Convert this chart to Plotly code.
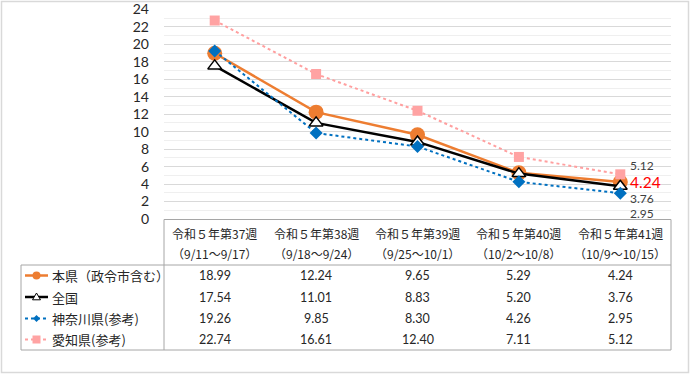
import plotly.graph_objects as go

weeks = ["令和５年第37週", "令和５年第38週", "令和５年第39週", "令和５年第40週", "令和５年第41週"]
periods = ["（9/11～9/17）", "（9/18～9/24）", "（9/25～10/1）", "（10/2～10/8）", "（10/9～10/15）"]
series_names = ["本県（政令市含む）", "全国", "神奈川県(参考)", "愛知県(参考)"]
honken = [18.99, 12.24, 9.65, 5.29, 4.24]
zenkoku = [17.54, 11.01, 8.83, 5.20, 3.76]
kanagawa = [19.26, 9.85, 8.30, 4.26, 2.95]
aichi = [22.74, 16.61, 12.40, 7.11, 5.12]
y_ticks = list(range(0, 25, 2))

W, H = 690, 375
L, R, T, B = 164, 19, 9, 156
PW, PH = W - L - R, H - T - B

def px(x):
    return (x - L) / PW

def py(y):
    return (H - B - y) / PH

NUM_FONT = "Lato, 'Noto Sans CJK JP', sans-serif"
JP_FONT = "'Noto Sans CJK JP', Lato, sans-serif"
TXT = "#262626"

styles = [
    dict(color="#ED7D31", width=2.5, dash="solid", symbol="circle", size=15, mcolor="#ED7D31", lcolor="#ED7D31", lsize=8),
    dict(color="#000000", width=2.5, dash="solid", symbol="triangle-up", size=12, mcolor="#FFFFFF", lcolor="#000000", lsize=8),
    dict(color="#0070C0", width=2, dash="dot", symbol="diamond", size=10, mcolor="#0070C0", lcolor="#0070C0", lsize=7),
    dict(color="#FF9F9F", width=2, dash="dot", symbol="square", size=10, mcolor="#FFA3A3", lcolor="#FFA3A3", lsize=8),
]
data = [honken, zenkoku, kanagawa, aichi]
xs = list(range(len(weeks)))

fig = go.Figure()
for name, vals, st in zip(series_names, data, styles):
    fig.add_trace(go.Scatter(
        x=xs, y=vals, name=name, mode="lines+markers",
        line=dict(color=st["color"], width=st["width"], dash=st["dash"]),
        marker=dict(symbol=st["symbol"], size=st["size"], color=st["mcolor"],
                    line=dict(color=st["lcolor"], width=1.5 if st["symbol"] == "triangle-up" else 0)),
        showlegend=False, hoverinfo="skip"))

shapes = []
annotations = []
line_col = "#A6A6A6"

def hline(x0, x1, y, col=line_col):
    shapes.append(dict(type="line", xref="paper", yref="paper", x0=px(x0), x1=px(x1), y0=py(y), y1=py(y),
                       line=dict(color=col, width=1)))

def vline(x, y0, y1, col=line_col):
    shapes.append(dict(type="line", xref="paper", yref="paper", x0=px(x), x1=px(x), y0=py(y0), y1=py(y1),
                       line=dict(color=col, width=1)))

# outer chart border
shapes.append(dict(type="rect", xref="paper", yref="paper", x0=px(1.5), x1=px(688.5), y0=py(1.5), y1=py(372.5),
                   line=dict(color="#D9D9D9", width=1.5)))

# table frame
hline(164, 671, 219.5)
vline(164, 219.5, 350)
vline(671, 219.5, 350)
hline(21, 671, 265)
hline(21, 671, 350)
vline(21, 265, 350)

# header text
for i, (w, p) in enumerate(zip(weeks, periods)):
    annotations.append(dict(x=i, y=py(233), xref="x", yref="paper", text=w, showarrow=False,
                            font=dict(family=JP_FONT, size=12, color=TXT), xanchor="center", yanchor="middle"))
    annotations.append(dict(x=i, y=py(253), xref="x", yref="paper", text=p, showarrow=False,
                            font=dict(family=JP_FONT, size=12, color=TXT), xanchor="center", yanchor="middle"))

row_y = [275.5, 297, 318.5, 339.5]
for r, (name, vals, st) in enumerate(zip(series_names, data, styles)):
    yy = row_y[r]
    for i, v in enumerate(vals):
        annotations.append(dict(x=i, y=py(yy), xref="x", yref="paper", text=f"{v:.2f}", showarrow=False,
                                font=dict(family=NUM_FONT, size=12.5, color=TXT), xanchor="center", yanchor="middle"))
    # legend sample line
    shapes.append(dict(type="line", xref="paper", yref="paper", x0=px(25), x1=px(48), y0=py(yy), y1=py(yy),
                       line=dict(color=st["color"], width=st["width"], dash=st["dash"])))
    cx, cy = 36.5, yy
    s = st["lsize"] / 2
    if st["symbol"] == "circle":
        shapes.append(dict(type="circle", xref="paper", yref="paper", x0=px(cx - s), x1=px(cx + s),
                           y0=py(cy - s), y1=py(cy + s), fillcolor=st["mcolor"], line=dict(width=0)))
    elif st["symbol"] == "square":
        shapes.append(dict(type="rect", xref="paper", yref="paper", x0=px(cx - s), x1=px(cx + s),
                           y0=py(cy - s), y1=py(cy + s), fillcolor=st["mcolor"], line=dict(width=0)))
    elif st["symbol"] == "diamond":
        pts = [(cx, cy - s), (cx + s, cy), (cx, cy + s), (cx - s, cy)]
        path = "M " + " L ".join(f"{px(a)},{py(b)}" for a, b in pts) + " Z"
        shapes.append(dict(type="path", xref="paper", yref="paper", path=path, fillcolor=st["mcolor"], line=dict(width=0)))
    else:
        pts = [(cx, cy - s), (cx + s, cy + s * 0.7), (cx - s, cy + s * 0.7)]
        path = "M " + " L ".join(f"{px(a)},{py(b)}" for a, b in pts) + " Z"
        shapes.append(dict(type="path", xref="paper", yref="paper", path=path, fillcolor="#FFFFFF",
                           line=dict(color="#000000", width=1)))
    annotations.append(dict(x=px(50), y=py(yy), xref="paper", yref="paper", text=name, showarrow=False,
                            font=dict(family=JP_FONT, size=13, color=TXT), xanchor="left", yanchor="middle"))

# data labels at last point
last = len(weeks) - 1
label_specs = [(honken, 0, "#FF0000", 15.5), (zenkoku, -12, "#404040", 12), (kanagawa, -20, "#404040", 12), (aichi, 9, "#404040", 12)]
for vals, ysh, col, fs in label_specs:
    annotations.append(dict(x=last, y=vals[last], xref="x", yref="y", text=f"{vals[last]:.2f}", showarrow=False,
                            xanchor="left", yanchor="middle", xshift=9, yshift=ysh, borderpad=0,
                            font=dict(family=NUM_FONT, size=fs, color=col)))

fig.update_layout(
    width=W, height=H, autosize=False, margin=dict(l=L, r=R, t=T, b=B),
    paper_bgcolor="white", plot_bgcolor="white",
    shapes=shapes, annotations=annotations,
    xaxis=dict(range=[-0.5, len(weeks) - 0.5], showticklabels=False, showgrid=False, zeroline=False,
               showline=False, ticks="", fixedrange=True),
    yaxis=dict(range=[0, 24.06], tickvals=y_ticks, showgrid=True, gridcolor="#D9D9D9", gridwidth=1,
               zeroline=False, showline=False, ticks="", ticklabelstandoff=14, automargin=False,
               tickfont=dict(family=NUM_FONT, size=14, color=TXT),
               minor=dict(dtick=1, showgrid=True, gridcolor="#EFEFEF", gridwidth=1), fixedrange=True),
)

fig.write_html("out.html", config={"responsive": False, "displayModeBar": False},
               post_script="var gd=document.getElementById('{plot_id}');gd.style.position='fixed';gd.style.left='0px';gd.style.top='0px';")
